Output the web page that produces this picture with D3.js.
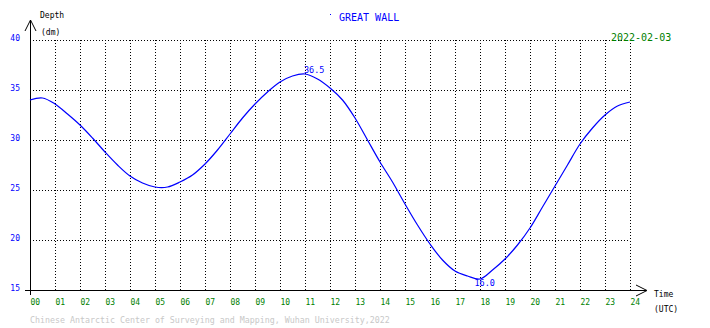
<!DOCTYPE html>
<html><head><meta charset="utf-8">
<script src="https://cdn.jsdelivr.net/npm/d3@7"></script>
<style>body{margin:0;background:#fff}svg{display:block}text{font-family:"DejaVu Sans Mono",monospace}</style>
</head><body>
<script>
const hours = [0,0.5,1,1.5,2,2.5,3,3.5,4,4.5,5,5.5,6,6.5,7,7.5,8,8.5,9,9.5,10,10.5,11,11.5,12,12.5,13,13.5,14,14.5,15,15.5,16,16.5,17,17.5,18,18.5,19,19.5,20,20.5,21,21.5,22,22.5,23,23.5,24];
const depths = [34.0,34.2,33.6,32.6,31.5,30.2,28.8,27.5,26.4,25.7,25.3,25.3,25.8,26.5,27.6,29.0,30.6,32.2,33.6,34.8,35.8,36.4,36.6,36.1,35.2,34.0,32.2,30.0,27.8,25.8,23.6,21.5,19.6,18.0,16.9,16.4,16.1,17.0,18.1,19.5,21.2,23.3,25.4,27.5,29.6,31.2,32.5,33.4,33.8];
const xTickLabels = ["00","01","02","03","04","05","06","07","08","09","10","11","12","13","14","15","16","17","18","19","20","21","22","23","24"];
const yTicks = [15,20,25,30,35,40];
const maxLabel = {hour: 11, value: "36.5"};
const minLabel = {hour: 17.8, value: "16.0"};
const title = "GREAT WALL";
const dateText = "2022-02-03";
const footer = "Chinese Antarctic Center of Surveying and Mapping, Wuhan University,2022";

const W = 710, H = 328;
const svg = d3.select("body").append("svg").attr("width", W).attr("height", H);
const x = d3.scaleLinear().domain([0,24]).range([30,630]);
const y = d3.scaleLinear().domain([15,40]).range([290,40]);

// grid
const g = svg.append("g").attr("shape-rendering","crispEdges");
g.selectAll("line.h").data(yTicks.filter(v=>v>15)).join("line")
  .attr("x1", x(0)).attr("x2", x(24)).attr("y1", d=>y(d)+0.5).attr("y2", d=>y(d)+0.5)
  .attr("stroke","#000").attr("stroke-dasharray","1,2");
g.selectAll("line.v").data(d3.range(1,25)).join("line")
  .attr("y1", y(40)).attr("y2", y(15)).attr("x1", d=>x(d)+0.5).attr("x2", d=>x(d)+0.5)
  .attr("stroke","#000").attr("stroke-dasharray","1,2");

// axes
const ax = svg.append("g").attr("stroke","#000").attr("fill","none");
ax.append("line").attr("x1",x(0)+0.5).attr("x2",x(0)+0.5).attr("y1",20).attr("y2",295).attr("shape-rendering","crispEdges");
ax.append("line").attr("x1",25).attr("x2",646).attr("y1",y(15)+0.5).attr("y2",y(15)+0.5).attr("shape-rendering","crispEdges");
ax.append("path").attr("d",`M${x(0)-5},31L${x(0)+0.5},20L${x(0)+6},31`);
ax.append("path").attr("d",`M636,285L647,290.5L636,296`);

// curve
const line = d3.line().x((d,i)=>x(hours[i])).y(d=>y(d)).curve(d3.curveCatmullRom);
svg.append("path").datum(depths).attr("d",line).attr("fill","none").attr("stroke","#0000ff").attr("stroke-width",1.2);

// tick labels
svg.selectAll("text.yt").data(yTicks).join("text")
  .attr("x",20).attr("y",d=>y(d)+1).attr("text-anchor","end")
  .attr("font-size",8).attr("fill","#0000ff").text(d=>d);
svg.selectAll("text.xt").data(xTickLabels).join("text")
  .attr("x",(d,i)=>x(i)+0.5).attr("y",305)
  .attr("font-size",8).attr("fill","#008000").text(d=>d);

// axis labels
svg.append("text").attr("x",40).attr("y",18).attr("font-size",8).attr("fill","#000").text("Depth");
svg.append("text").attr("x",41).attr("y",35).attr("font-size",8).attr("fill","#000").text("(dm)");
svg.append("text").attr("x",654).attr("y",297).attr("font-size",8).attr("fill","#000").text("Time");
svg.append("text").attr("x",654).attr("y",312).attr("font-size",8).attr("fill","#000").text("(UTC)");

// title, date
svg.append("rect").attr("x",330).attr("y",14).attr("width",1).attr("height",1).attr("fill","#0000ff");
svg.append("text").attr("x",339).attr("y",21).attr("font-size",10).attr("fill","#0000ff").text(title);
svg.append("text").attr("x",611).attr("y",41).attr("font-size",10).attr("fill","#008000").text(dateText);

// extremes
svg.append("text").attr("x",x(maxLabel.hour)-1).attr("y",73).attr("font-size",8.5).attr("fill","#0000ff").text(maxLabel.value);
svg.append("text").attr("x",x(minLabel.hour)-0.5).attr("y",286).attr("font-size",8.5).attr("fill","#0000ff").text(minLabel.value);

// footer
svg.append("text").attr("x",30).attr("y",323).attr("font-size",8.3).attr("fill","#c8c8c8").text(footer);
</script>
</body></html>
